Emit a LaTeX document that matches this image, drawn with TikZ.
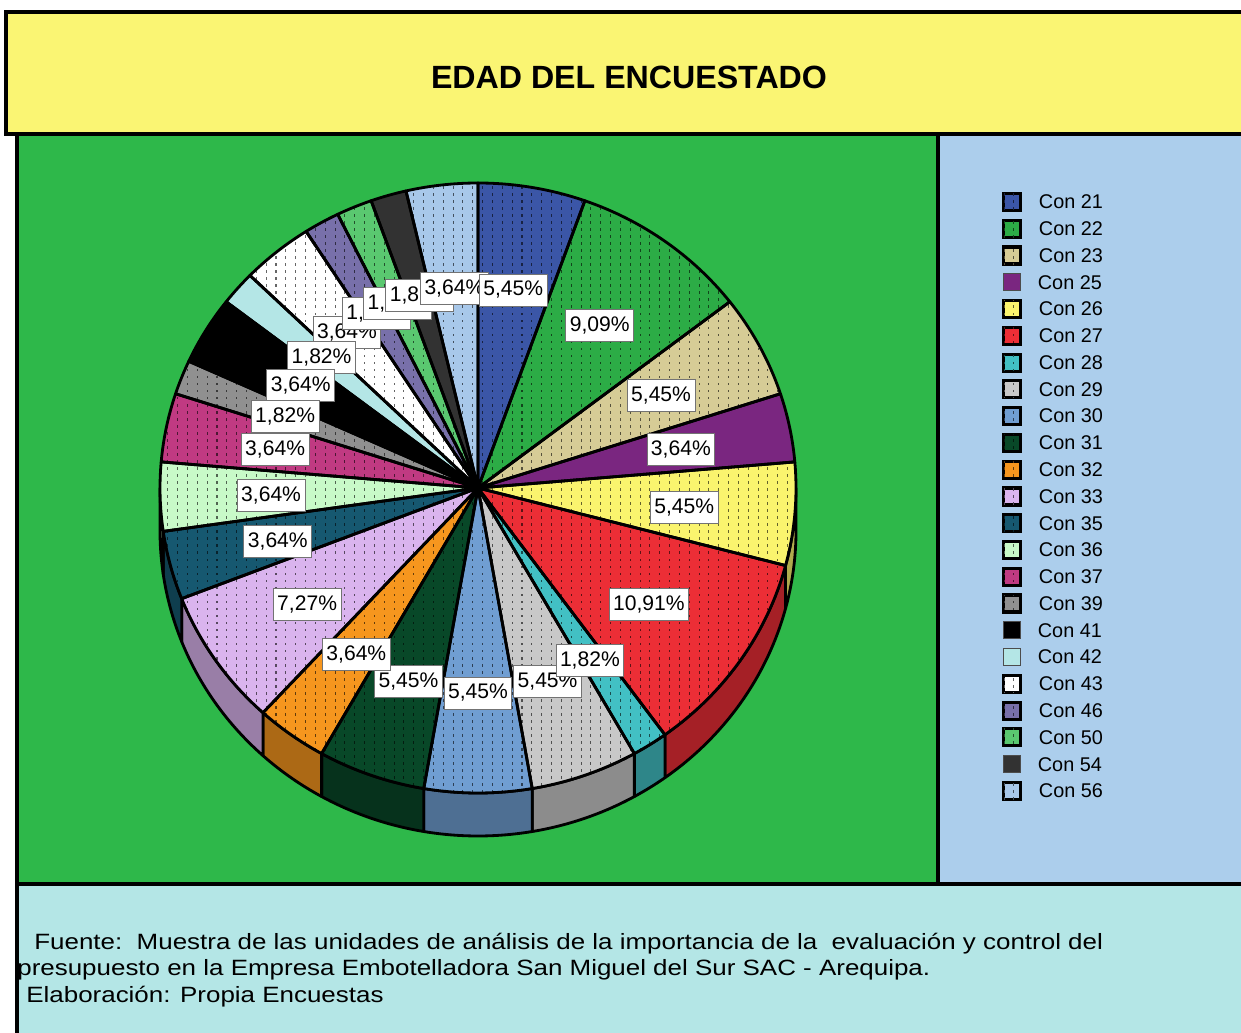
\documentclass[tikz,border=0pt]{standalone}
\usepackage{fontspec}
\setmainfont{Liberation Sans}
\usepackage{tikz}
\usetikzlibrary{calc,patterns,positioning}
\usepackage{xcolor}
\definecolor{c21}{RGB}{59,86,167}
\definecolor{c22}{RGB}{44,172,70}
\definecolor{c23}{RGB}{214,204,150}
\definecolor{c25}{RGB}{122,38,128}
\definecolor{c26}{RGB}{250,244,110}
\definecolor{c27}{RGB}{236,46,54}
\definecolor{c28}{RGB}{66,192,196}
\definecolor{c29}{RGB}{200,200,200}
\definecolor{c30}{RGB}{112,158,210}
\definecolor{c31}{RGB}{8,72,40}
\definecolor{c32}{RGB}{246,150,30}
\definecolor{c33}{RGB}{218,180,238}
\definecolor{c35}{RGB}{22,88,112}
\definecolor{c36}{RGB}{200,250,200}
\definecolor{c37}{RGB}{192,58,130}
\definecolor{c39}{RGB}{144,144,144}
\definecolor{c41}{RGB}{0,0,0}
\definecolor{c42}{RGB}{180,230,230}
\definecolor{c43}{RGB}{255,255,255}
\definecolor{c46}{RGB}{120,112,170}
\definecolor{c50}{RGB}{90,200,112}
\definecolor{c54}{RGB}{50,50,50}
\definecolor{c56}{RGB}{168,200,234}
\definecolor{plotgreen}{RGB}{46,184,74}
\definecolor{keyblue}{RGB}{172,206,236}
\definecolor{titleyellow}{RGB}{250,245,115}
\definecolor{notecyan}{RGB}{180,230,230}
\pgfdeclarepatternformonly{spssdots}{\pgfqpoint{-1pt}{-1pt}}{\pgfqpoint{6pt}{4.2pt}}{\pgfqpoint{5.6pt}{4pt}}{%
  \pgfpathrectangle{\pgfqpoint{0pt}{0pt}}{\pgfqpoint{0.6pt}{1.5pt}}%
  \pgfusepath{fill}}
\tikzstyle{panel} = [draw=black, line width=1.8pt]
\tikzstyle{wedge} = [draw=black, line width=1.6pt, line join=round]
\tikzstyle{pctlabel} = [rectangle, draw=black!55, fill=white, line width=0.5pt, inner xsep=2.3pt, inner ysep=0pt, minimum height=0.64cm, font=\fontsize{12pt}{14pt}\selectfont]
\tikzstyle{keybox} = [rectangle, minimum size=0.34cm, inner sep=0pt]
\tikzstyle{keytext} = [inner sep=0pt, font=\fontsize{11.3pt}{13pt}\selectfont]
\tikzstyle{notetext} = [anchor=base west, inner sep=0pt, font=\fontsize{12.6pt}{15pt}\selectfont]
\newcommand\pctof[1]{\ifcase#1\or1,82\or3,64\or5,45\or7,27\or9,09\or10,91\fi\%}

\begin{document}
\begin{tikzpicture}[x=0.02cm, y=0.02cm]
    \useasboundingbox (0,0) rectangle (1241,1032);
    \clip (0,0) rectangle (1241,1032);
    % Panels
    \draw[panel, fill=plotgreen] (17,148) rectangle (938,898);
    \draw[panel, fill=keyblue] (938,148) rectangle (1260,898);
    \draw[panel, fill=notecyan] (17,-20) rectangle (1260,148);
    \draw[panel, fill=titleyellow] (6,898) rectangle (1260,1020);
    \node[font=\bfseries\fontsize{18.3pt}{20pt}\selectfont] (title) at (629,955) {EDAD DEL ENCUESTADO};

    % Pie (one count = 360/55 degrees)
    \coordinate (c) at (478,544);
    \foreach \age/\cnt/\off in {21/3/0, 22/5/3, 23/3/8, 25/2/11, 26/3/13, 27/6/16, 28/1/22, 29/3/23, 30/3/26, 31/3/29, 32/2/32, 33/4/34, 35/2/38, 36/2/40, 37/2/42, 39/1/44, 41/2/45, 42/1/47, 43/2/48, 46/1/50, 50/1/51, 54/1/52, 56/2/53}{
        \pgfmathsetmacro\angA{min(90-\off*6.545454,0)}
        \pgfmathsetmacro\angB{max(90-(\off+\cnt)*6.545454,-180)}
        \pgfmathtruncatemacro\seen{\angA>\angB}
        \ifnum\seen=1
            \draw[wedge, fill=c\age!70!black] ($(c)+(\angA:318 and 305)$) arc[start angle=\angA, end angle=\angB, x radius=318, y radius=305] -- ++(0,-43) arc[start angle=\angB, end angle=\angA, x radius=318, y radius=305] -- cycle;
        \fi
    }
    \foreach \age/\cnt/\off/\pat in {21/3/0/1, 22/5/3/1, 23/3/8/1, 25/2/11/0, 26/3/13/1, 27/6/16/1, 28/1/22/1, 29/3/23/1, 30/3/26/1, 31/3/29/1, 32/2/32/1, 33/4/34/1, 35/2/38/1, 36/2/40/1, 37/2/42/1, 39/1/44/1, 41/2/45/0, 42/1/47/0, 43/2/48/1, 46/1/50/1, 50/1/51/1, 54/1/52/0, 56/2/53/1}{
        \pgfmathsetmacro\angA{90-\off*6.545454}
        \pgfmathsetmacro\angB{90-(\off+\cnt)*6.545454}
        \ifnum\pat=1
            \fill[c\age, postaction={pattern=spssdots, pattern color=c\age!40!black}] (c) -- ($(c)+(\angA:318 and 305)$) arc[start angle=\angA, end angle=\angB, x radius=318, y radius=305] -- cycle;
        \else
            \fill[c\age] (c) -- ($(c)+(\angA:318 and 305)$) arc[start angle=\angA, end angle=\angB, x radius=318, y radius=305] -- cycle;
        \fi
    }
    \foreach \cnt/\off in {3/0, 5/3, 3/8, 2/11, 3/13, 6/16, 1/22, 3/23, 3/26, 3/29, 2/32, 4/34, 2/38, 2/40, 2/42, 1/44, 2/45, 1/47, 2/48, 1/50, 1/51, 1/52, 2/53}{
        \pgfmathsetmacro\angA{90-\off*6.545454}
        \pgfmathsetmacro\angB{90-(\off+\cnt)*6.545454}
        \draw[wedge] (c) -- ($(c)+(\angA:318 and 305)$) arc[start angle=\angA, end angle=\angB, x radius=318, y radius=305] -- cycle;
    }

    % Labels
    \foreach \age/\cnt/\off in {22/5/3, 23/3/8, 25/2/11, 26/3/13, 27/6/16, 29/3/23, 28/1/22, 30/3/26, 31/3/29, 32/2/32, 33/4/34, 35/2/38, 36/2/40, 43/2/48, 42/1/47, 41/2/45, 39/1/44, 37/2/42, 46/1/50, 50/1/51, 54/1/52, 56/2/53, 21/3/0}{
        \pgfmathsetmacro\midang{90-(\off+\cnt/2)*6.545454}
        \node[pctlabel] (lab\age) at ($(c)+(\midang:207 and 203)+(0,-2)$) {\pctof{\cnt}};
    }

    % Legend
    \foreach \age/\pat [count=\i from 0] in {21/1, 22/1, 23/1, 25/0, 26/1, 27/1, 28/1, 29/1, 30/1, 31/1, 32/1, 33/1, 35/1, 36/1, 37/1, 39/1, 41/0, 42/0, 43/1, 46/1, 50/1, 54/0, 56/1}{
        \ifnum\pat=1
            \node[keybox, fill=c\age, draw=black, line width=1.8pt, postaction={pattern=spssdots, pattern color=c\age!40!black}] (key\age) at (1012,{830-26.77*\i}) {};
        \else
            \node[keybox, fill=c\age, draw=black!70, line width=0.6pt] (key\age) at (1012,{830-26.77*\i}) {};
        \fi
        \node[keytext, right=0.33cm of key\age] (txt\age) {Con \age};
    }

    % Source note
    \node[notetext] (fuente) at (34,83) {\scalebox{1.172}[1]{Fuente:\ \ Muestra de las unidades de análisis de la importancia de la\ \ evaluación y control del}};
    \node[notetext] (empresa) at (17,57) {\scalebox{1.172}[1]{presupuesto en la Empresa Embotelladora San Miguel del Sur SAC - Arequipa.}};
    \node[notetext] (elab) at (26,30) {\scalebox{1.172}[1]{Elaboración: Propia Encuestas}};
\end{tikzpicture}
\end{document}
